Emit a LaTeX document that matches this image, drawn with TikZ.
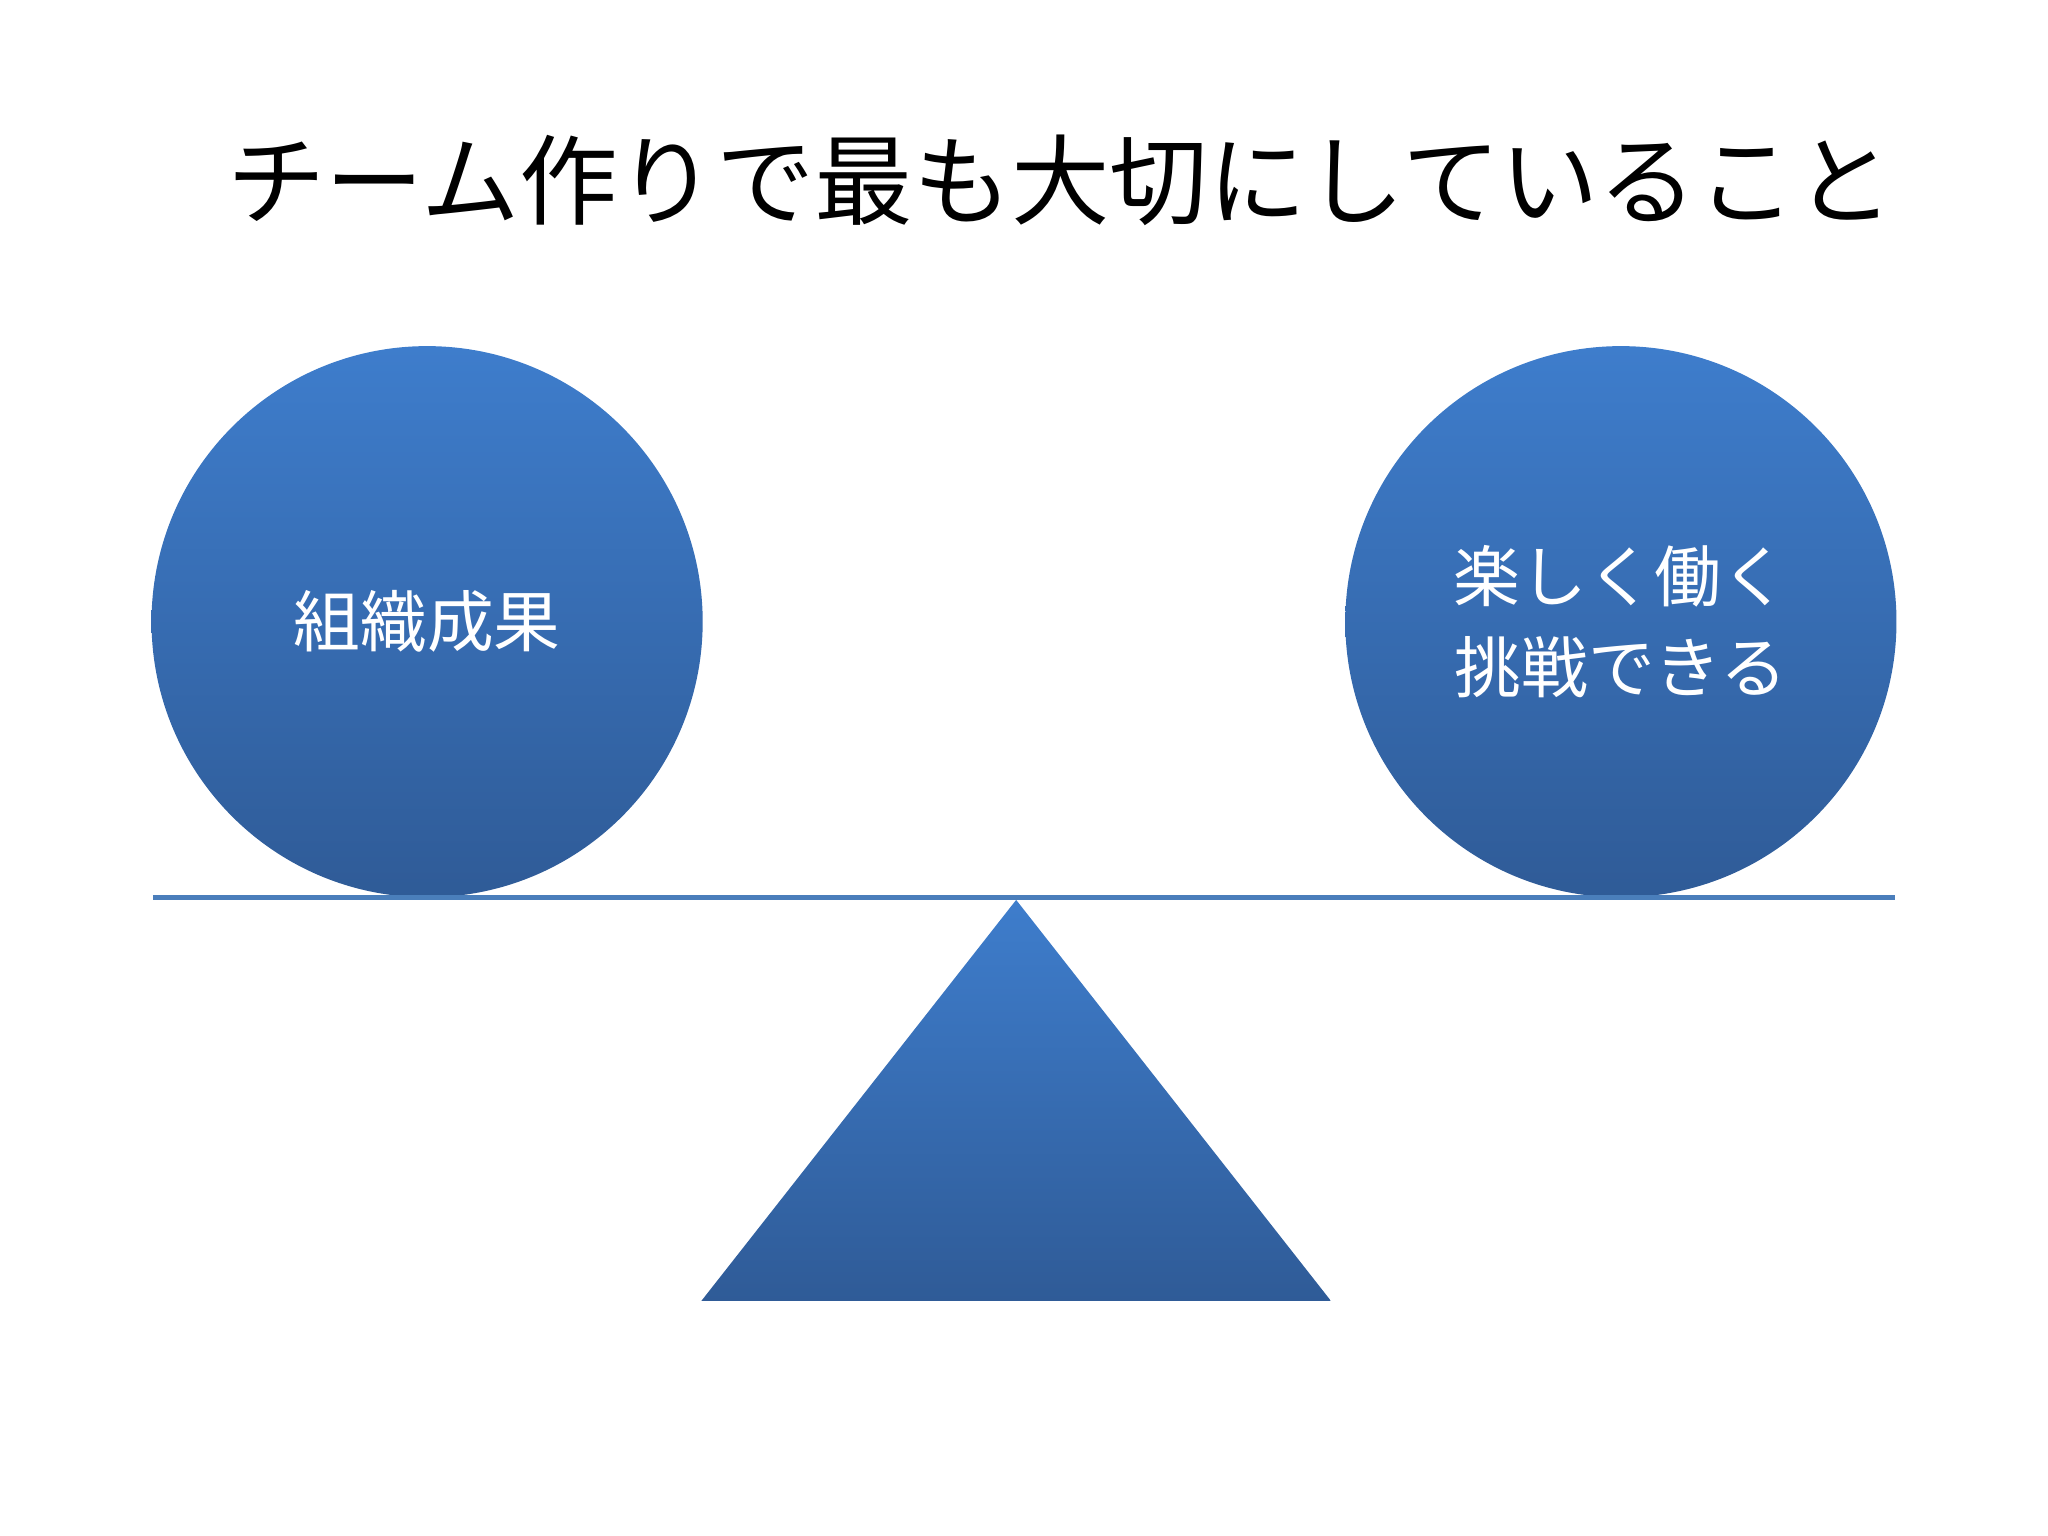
\documentclass[tikz,border=0pt]{standalone}
\usepackage{fontspec}
\newfontfamily\cjk{Noto Sans CJK JP}
\definecolor{topb}{HTML}{3E7DCC}
\definecolor{botb}{HTML}{2F5B97}
\definecolor{linec}{HTML}{4A7EBB}
\begin{document}
\begin{tikzpicture}[x=0.01306cm,y=-0.01306cm,
  ball/.style={circle,minimum size=422*0.01306cm,inner sep=0pt,top color=topb,bottom color=botb,draw=none,text=white,font=\cjk\fontsize{19}{26}\selectfont,align=center},
  lbl/.style={font=\cjk\fontsize{28}{34}\selectfont}]
\useasboundingbox (0,0) rectangle (1568,1176);
\node[lbl] (title) at (812,138) {チーム作りで最も大切にしていること};
\node[ball] (l) at (327,476) {組織成果};
\node[ball] (r) at (1241,476) {楽しく働く\\挑戦できる};
\coordinate (a) at (117,687);
\coordinate (b) at (1451,687);
\draw[linec,line width=1.3pt] (a) -- (b);
\coordinate (apex) at (778,689);
\coordinate (bl) at (537,996);
\coordinate (br) at (1019,996);
\shade[top color=topb,bottom color=botb] (apex) -- (br) -- (bl) -- cycle;
\end{tikzpicture}
\end{document}
